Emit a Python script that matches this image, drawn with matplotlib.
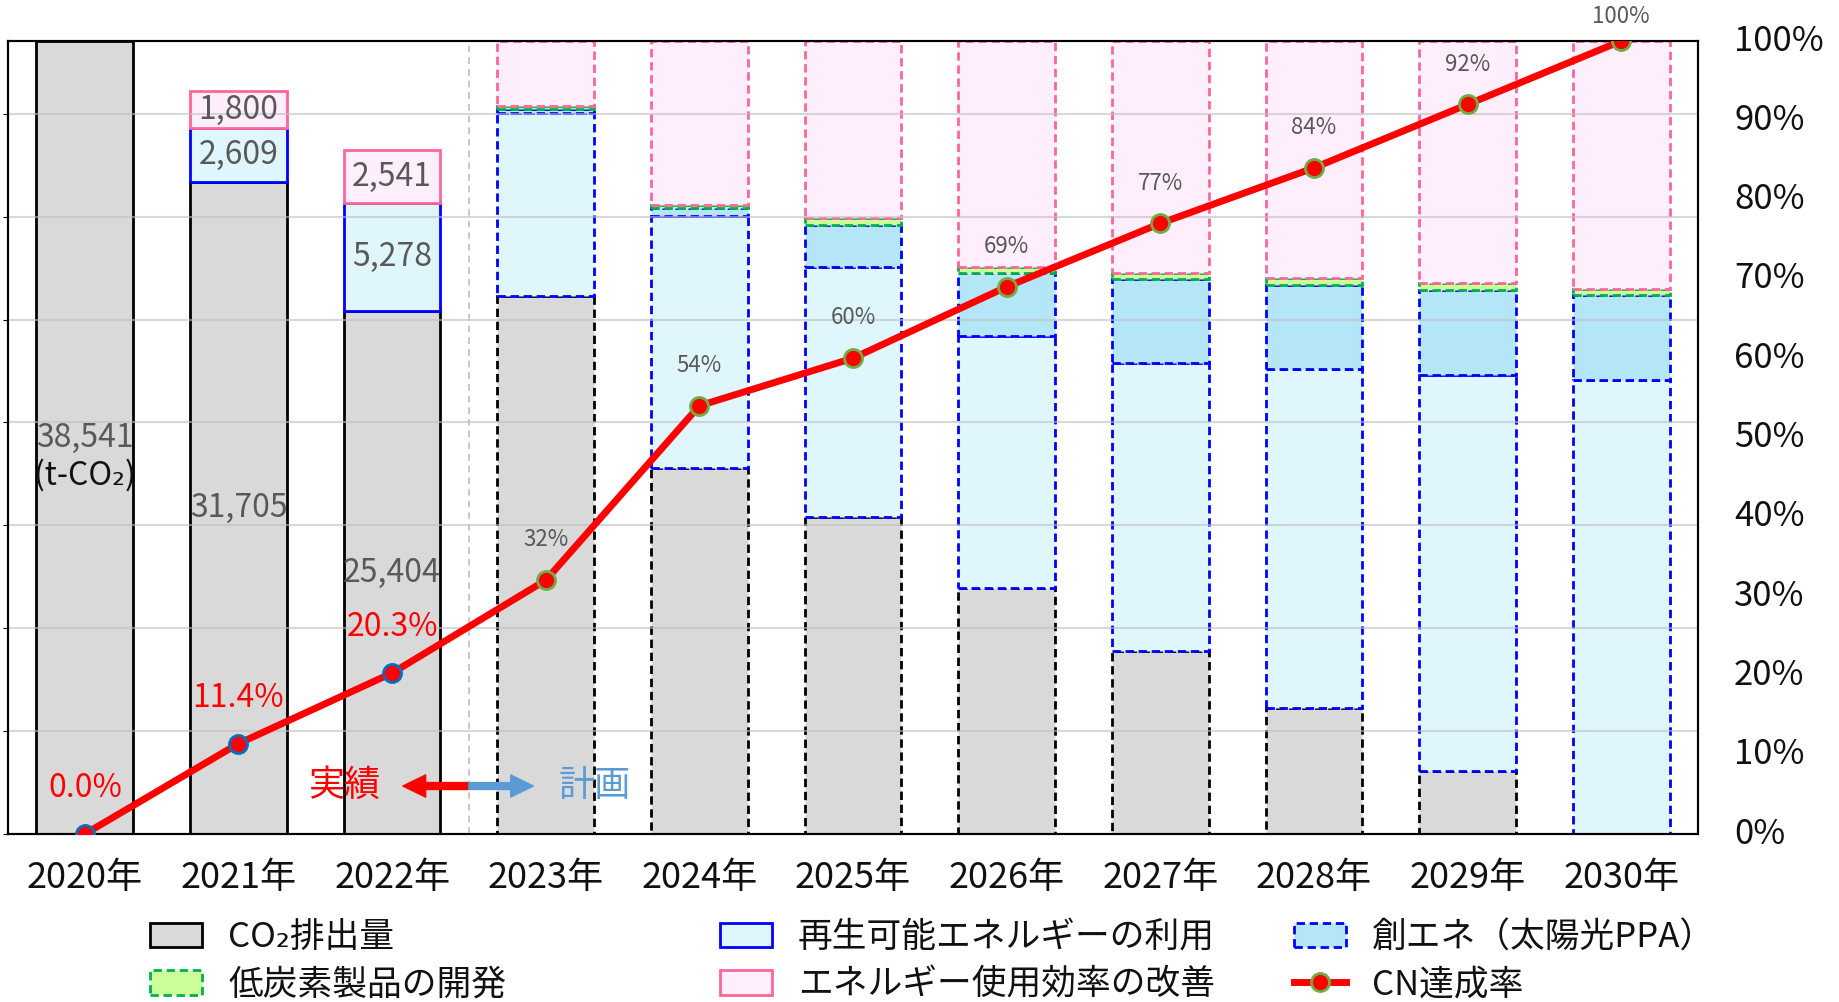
import matplotlib
matplotlib.use('Agg')
import matplotlib.pyplot as plt
from matplotlib.patches import Patch
from matplotlib.lines import Line2D
import matplotlib.transforms as mtransforms
import numpy as np

plt.rcParams['font.family'] = ['Noto Sans CJK JP', 'DejaVu Sans']

# ---------------- data ----------------
years = ['2020年', '2021年', '2022年', '2023年', '2024年', '2025年',
         '2026年', '2027年', '2028年', '2029年', '2030年']
co2 = [38541, 31705, 25404, 26162, 17800, 15400, 11950, 8900, 6100, 3050, 0]
renewable = [0, 2609, 5278, 8903, 12235, 12171, 12253, 14010, 16523, 19282, 22064]
solar_ppa = [0, 0, 0, 195, 374, 2026, 3076, 4048, 4058, 4106, 4131]
low_carbon = [0, 0, 0, 120, 146, 326, 292, 321, 326, 325, 292]
efficiency = [0, 1800, 2541, 3160, 7986, 8618, 10970, 11262, 11534, 11778, 12054]
cn_rate = [0.0, 0.114, 0.203, 0.32, 0.54, 0.60, 0.69, 0.77, 0.84, 0.92, 1.00]
n_actual = 3
baseline = 38541
legend_labels = ['CO₂排出量', '再生可能エネルギーの利用', '創エネ（太陽光PPA）',
                 '低炭素製品の開発', 'エネルギー使用効率の改善', 'CN達成率']

# ---------------- figure ----------------
W, H = 1840, 1002
fig = plt.figure(figsize=(W / 100, H / 100), dpi=100)
ax = fig.add_axes([8 / W, 1 - 834 / H, 1690 / W, 793 / H])

x = np.arange(len(years))
bw = 0.63
GRAY_TXT = '#595959'
ELW = 2.0
DASH = (0, (3.0, 1.7))

layers = [
    (co2, '#D9D9D9', '#000000'),
    (renewable, '#DFF6FD', '#0000FF'),
    (solar_ppa, '#B5E6F7', '#0000FF'),
    (low_carbon, '#CCFF99', '#00B050'),
    (efficiency, '#FFEEFC', '#FF6699'),
]
bottom = np.zeros(len(years))
stack_info = []
for vals, fc, ec in layers:
    v = np.array(vals, dtype=float)
    bars = ax.bar(x, v, bw, bottom=bottom, color=fc, edgecolor=ec,
                  linewidth=ELW, zorder=1)
    for i, p in enumerate(bars):
        if i >= n_actual:
            p.set_linestyle(DASH)
        if v[i] <= 0:
            p.set_visible(False)
    stack_info.append((v, bottom.copy()))
    bottom = bottom + v

ax.set_xlim(-0.5, len(years) - 0.5)
ax.set_ylim(0, baseline)
ax.set_yticks(np.arange(0, baseline, 5000))
ax.tick_params(axis='y', left=False, labelleft=False)
ax.grid(axis='y', color='#BFBFBF', alpha=0.6, lw=1.5)
ax.set_axisbelow(False)
ax.set_xticks(x)
ax.set_xticklabels(years, fontsize=26, color='#111111')
ax.tick_params(axis='x', length=0, pad=19)
for s in ax.spines.values():
    s.set_color('black')
    s.set_linewidth(1.5)

ax.axvline(n_actual - 0.5, color='#BFBFBF', ls=(0, (4, 3)), lw=1.2, zorder=2.6)

# value labels for actual years
for i in range(n_actual):
    for v, b in stack_info:
        if v[i] > 0:
            ax.text(x[i], b[i] + v[i] / 2, f'{v[i]:,.0f}', ha='center', va='center',
                    fontsize=23, color=GRAY_TXT, zorder=4)
ax.annotate('(t-CO₂)', xy=(x[0], co2[0] / 2), xytext=(0, -27), textcoords='offset points',
            ha='center', va='center', fontsize=23, color='#111111', zorder=4)

# ---------------- CN rate line ----------------
ax2 = ax.twinx()
ax2.set_ylim(0, 1)
ax2.set_yticks(np.linspace(0, 1, 11))
ax2.set_yticklabels([f'{int(round(t * 100))}%' for t in np.linspace(0, 1, 11)],
                    fontsize=25, color='#111111')
ax2.tick_params(axis='y', length=0, pad=26)
shift = mtransforms.ScaledTranslation(0, 4 / 100, fig.dpi_scale_trans)
for lab in ax2.get_yticklabels():
    lab.set_transform(lab.get_transform() + shift)
for s in ax2.spines.values():
    s.set_color('black')
    s.set_linewidth(1.5)

ax2.plot(x, cn_rate, color='#FF0000', lw=5, zorder=3)
ax2.plot(x[:n_actual], cn_rate[:n_actual], 'o', ms=13, mfc='#FF0000', mec='#0070C0',
         mew=2, zorder=4)
ax2.plot(x[n_actual:], cn_rate[n_actual:], 'o', ms=13, mfc='#FF0000', mec='#70AD47',
         mew=2, zorder=4)
for i, v in enumerate(cn_rate):
    if i < n_actual:
        ax2.annotate(f'{v * 100:.1f}%', xy=(x[i], v), xytext=(0, 33),
                     textcoords='offset points', ha='center', va='center',
                     fontsize=23, color='#FF0000', annotation_clip=False)
    else:
        off = 18 if v >= 1 else 29
        ax2.annotate(f'{v * 100:.0f}%', xy=(x[i], v), xytext=(0, off),
                     textcoords='offset points', ha='center', va='center',
                     fontsize=16, color=GRAY_TXT, annotation_clip=False)

# actual / plan arrows
ya = 0.0605
astyle = 'simple,head_length=0.82,head_width=0.8,tail_width=0.25'
ax2.annotate('', xy=(2.07, ya), xytext=(n_actual - 0.5, ya),
             arrowprops=dict(arrowstyle=astyle, color='#FF0000', mutation_scale=20,
                             shrinkA=0, shrinkB=0))
ax2.annotate('', xy=(2.92, ya), xytext=(n_actual - 0.5, ya),
             arrowprops=dict(arrowstyle=astyle, color='#5B9BD5', mutation_scale=20,
                             shrinkA=0, shrinkB=0))
ax2.text(1.69, ya, '実績', ha='center', va='center', fontsize=26, color='#FF0000')
ax2.text(3.32, ya, '計画', ha='center', va='center', fontsize=26, color='#5B9BD5')

# ---------------- legend ----------------
h_co2 = Patch(fc='#D9D9D9', ec='black', lw=ELW)
h_ren = Patch(fc='#DFF6FD', ec='#0000FF', lw=ELW)
h_sol = Patch(fc='#B5E6F7', ec='#0000FF', lw=ELW, ls=DASH)
h_low = Patch(fc='#CCFF99', ec='#00B050', lw=ELW, ls=DASH)
h_eff = Patch(fc='#FFEEFC', ec='#FF6699', lw=ELW)
h_cn = Line2D([], [], color='#FF0000', lw=5, marker='o', ms=13, mfc='#FF0000',
              mec='#70AD47', mew=2)
cols = [([h_co2, h_low], [legend_labels[0], legend_labels[3]], 150),
        ([h_ren, h_eff], [legend_labels[1], legend_labels[4]], 720),
        ([h_sol, h_cn], [legend_labels[2], legend_labels[5]], 1294)]
for hs, ls, px in cols:
    leg = fig.legend(hs, ls, loc='center left', bbox_to_anchor=(px / W, 1 - 961.5 / H),
                     frameon=False, fontsize=25, handlelength=1.5, handleheight=0.7,
                     handletextpad=0.75, labelspacing=0.35, borderpad=0, borderaxespad=0)
    for t in leg.get_texts():
        t.set_color('#111111')

fig.savefig('out.png', dpi=100)
